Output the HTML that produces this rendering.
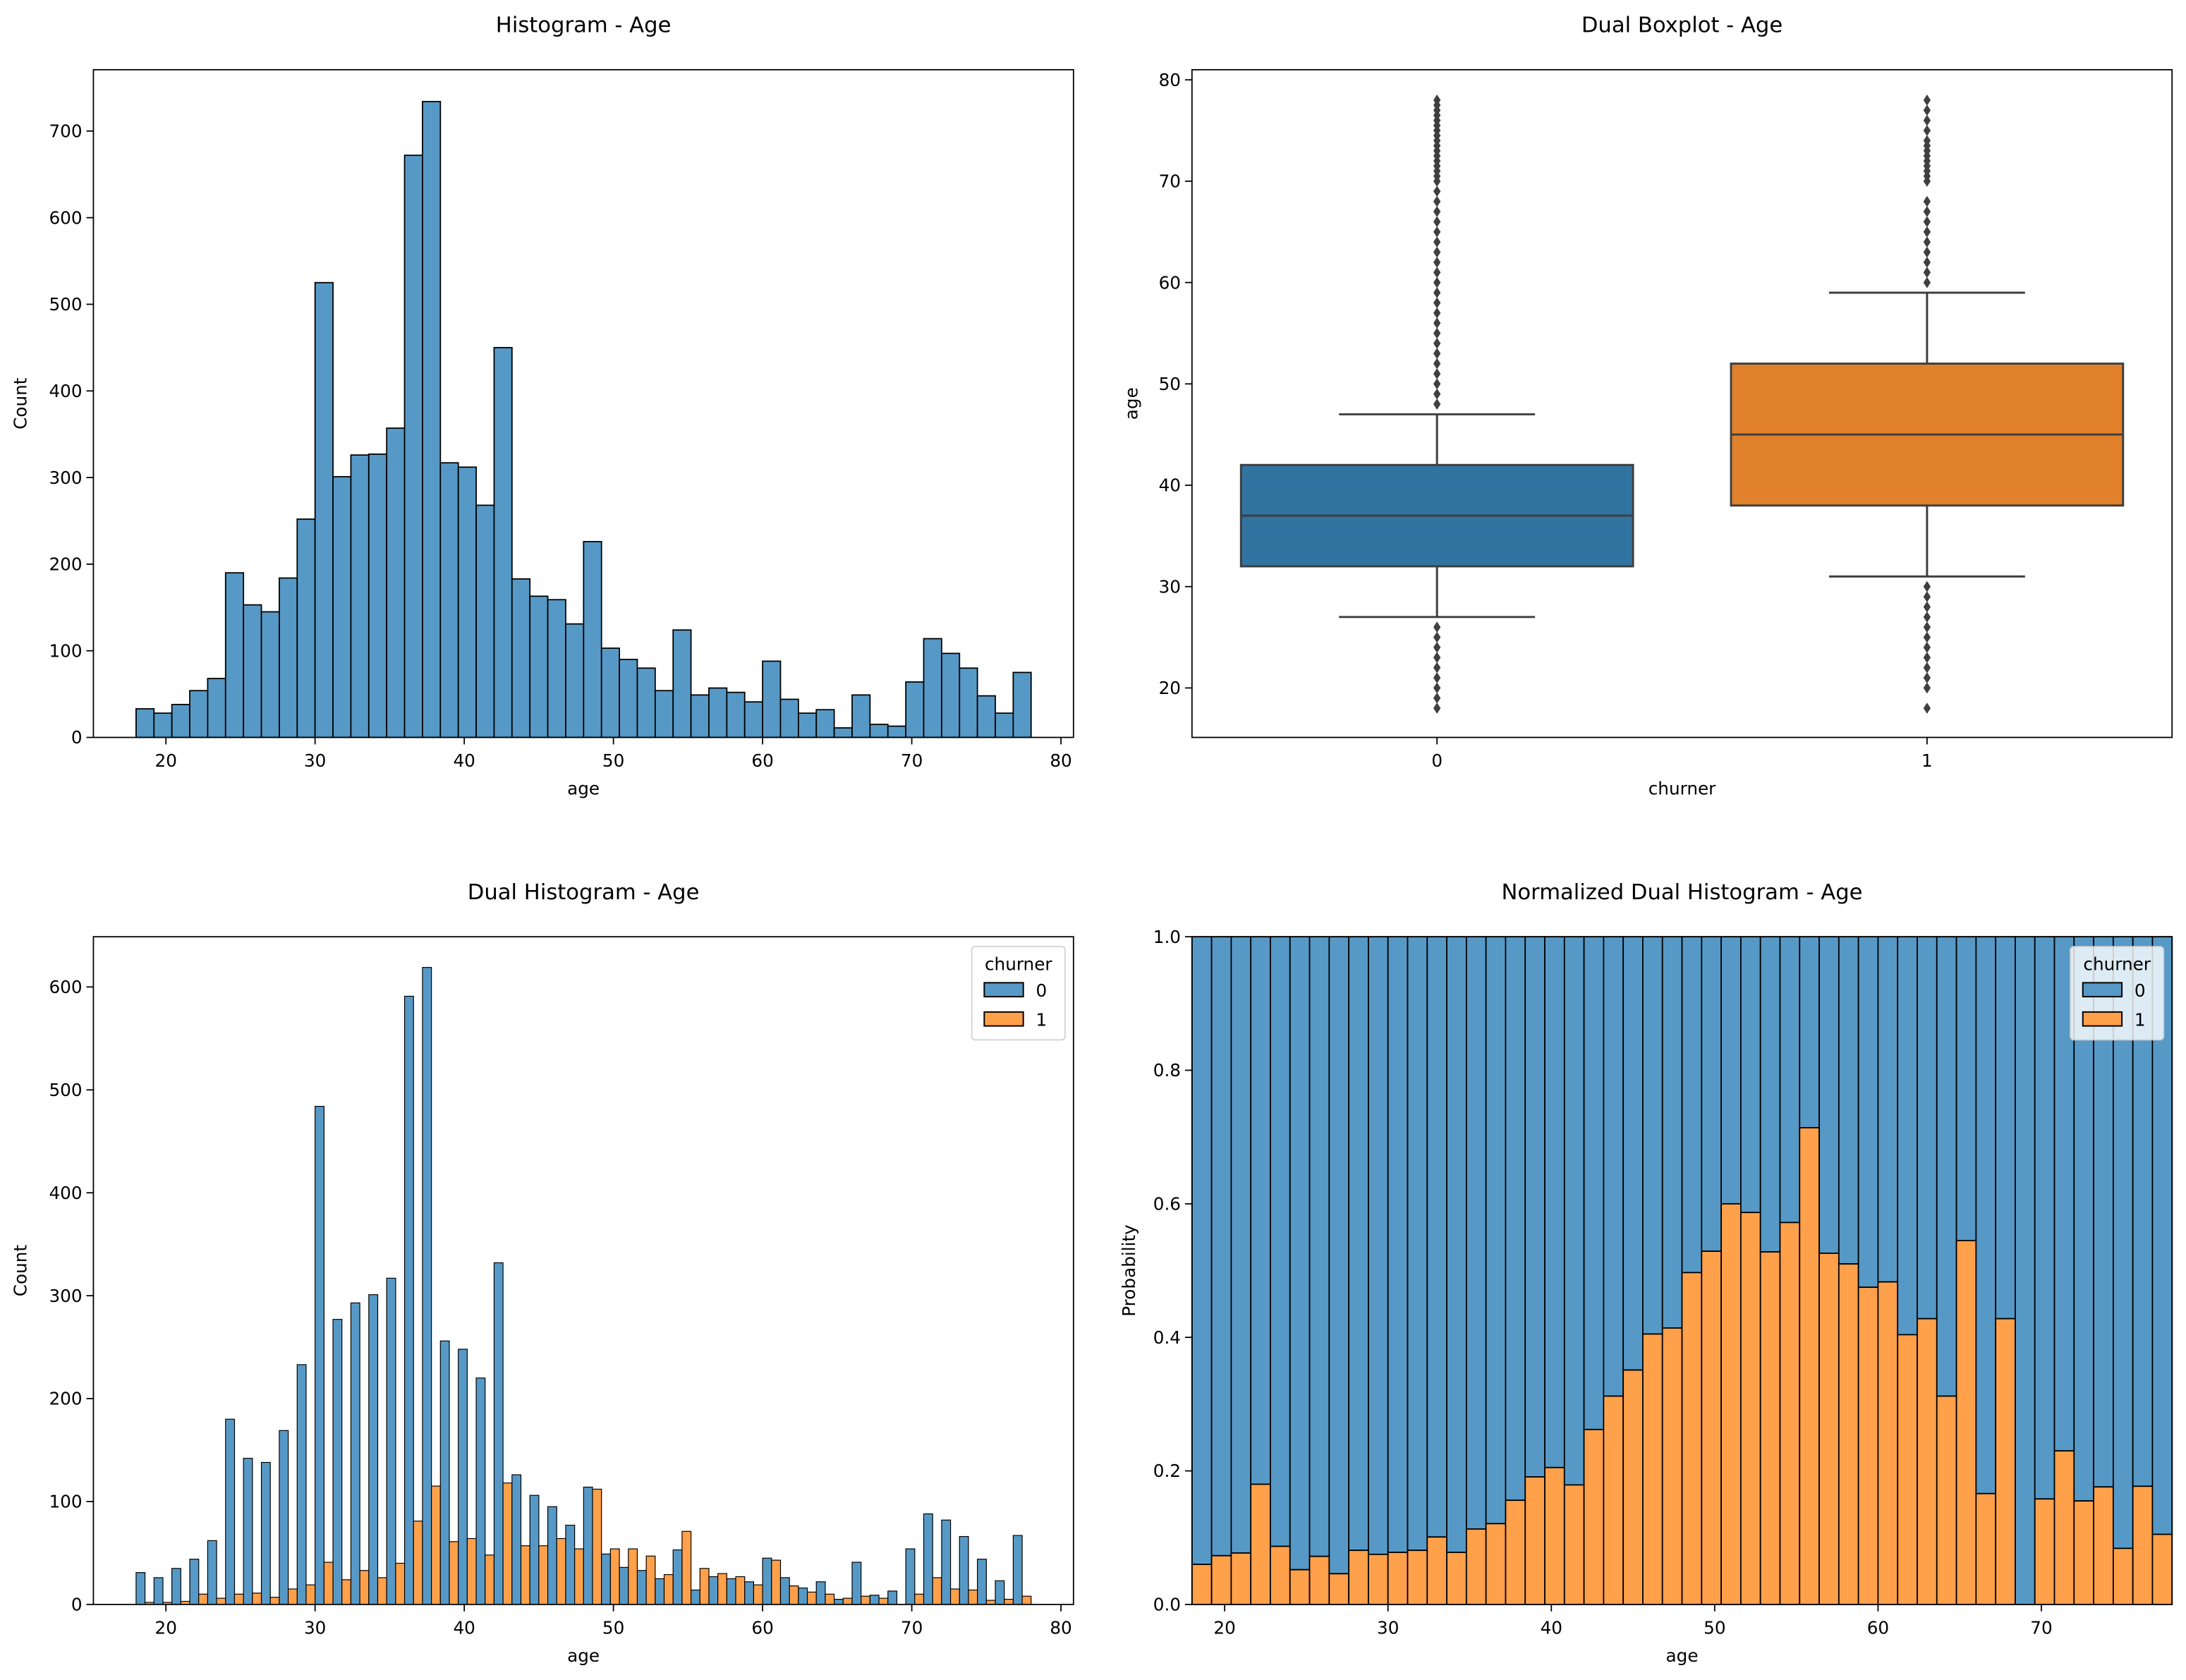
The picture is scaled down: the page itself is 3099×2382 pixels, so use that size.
<!DOCTYPE html>
<html><head><meta charset="utf-8"><style>
html,body{margin:0;padding:0;background:#fff;}
svg{display:block;font-family:"DejaVu Sans","Liberation Sans",sans-serif;}
</style></head><body>
<svg id="fig" width="3099" height="2382" viewBox="0 0 1568 1205.2" xmlns="http://www.w3.org/2000/svg"></svg>
<script>
// ---- data ----
const binStart = 18, binWidth = 1.2;
const totalCounts = [33,28,38,54,68,190,153,145,184,252,525,301,326,327,357,672,734,317,312,268,450,183,163,159,131,226,103,90,80,54,124,49,57,52,41,88,44,28,32,11,49,15,13,64,114,97,80,48,28,75];
const counts0 = [31,26,35,44,62,180,142,138,169,233,484,277,293,301,317,591,619,256,248,220,332,126,106,95,77,114,49,36,33,25,53,14,27,25,22,45,26,16,22,5,41,9,13,54,88,82,66,44,23,67];
const counts1 = [2,2,3,10,6,10,11,7,15,19,41,24,33,26,40,81,115,61,64,48,118,57,57,64,54,112,54,54,47,29,71,35,30,27,19,43,18,12,10,6,8,6,0,10,26,15,14,4,5,8];
const prob1 = [.060,.073,.077,.180,.087,.052,.072,.046,.081,.075,.078,.081,.101,.078,.113,.121,.156,.191,.205,.179,.262,.312,.351,.405,.414,.497,.529,.600,.587,.528,.572,.714,.526,.510,.475,.483,.404,.428,.312,.545,.166,.428,0,.158,.230,.155,.176,.084,.177,.105];
const boxCats = ["0","1"];
const boxQ1 = [32,38], boxMed = [37,45], boxQ3 = [42,52], boxLo = [27,31], boxHi = [47,59];
const outliers0 = [18,19,20,21,22,23,24,25,26,48,49,50,51,52,53,54,55,56,57,58,59,60,61,62,63,64,65,66,67,68,69,70,70.5,71,71.5,72,72.5,73,73.5,74,74.5,75,75.5,76,76.5,77,77.5,78];
const outliers1 = [18,20,21,22,23,24,25,26,27,28,29,30,60,61,62,63,64,65,66,67,68,70,70.5,71,71.5,72,72.5,73,73.5,74,75,76,77,78];
const histYTicks = [0,100,200,300,400,500,600,700];
const dualYTicks = [0,100,200,300,400,500,600];
const ageTicks = [20,30,40,50,60,70,80];
const ageTicksN = [20,30,40,50,60,70];
const boxYTicks = [20,30,40,50,60,70,80];
const probTicks = [0,0.2,0.4,0.6,0.8,1.0];

const svg = document.getElementById('fig');
const NS = 'http://www.w3.org/2000/svg';
function el(tag, attrs, parent, text){
  const e = document.createElementNS(NS, tag);
  for (const k in attrs) e.setAttribute(k, attrs[k]);
  if (text !== undefined) e.textContent = text;
  (parent || svg).appendChild(e);
  return e;
}
const BLUE='#5799c6', ORANGE='#ffa04b', EDGE='#000';
const TF = 12.5;

function axes(name, L, R, T, B, xmin, xmax, ymin, ymax){
  const g = el('g', {});
  
  
  return {g, L, R, T, B,
    x: v => L + (v - xmin) / (xmax - xmin) * (R - L),
    y: v => B - (v - ymin) / (ymax - ymin) * (B - T)};
}
function frame(a){
  const f = el('rect', {x:a.L, y:a.T, width:a.R-a.L, height:a.B-a.T, fill:'none', stroke:'#000', 'stroke-width':0.9}, a.g);
  
  
}
function xTicks(a, ticks, labels, fmt){
  ticks.forEach((t,i) => {
    const x = a.x(t);
    el('line', {x1:x, x2:x, y1:a.B, y2:a.B+5, stroke:'#000', 'stroke-width':0.9}, a.g);
    const tx = el('text', {x:x, y:a.B+21, 'font-size':TF, 'text-anchor':'middle'}, a.g, labels ? labels[i] : (fmt ? fmt(t) : t));
    
    
  });
}
function yTicks(a, ticks, fmt){
  ticks.forEach(t => {
    const y = a.y(t);
    el('line', {x1:a.L-5, x2:a.L, y1:y, y2:y, stroke:'#000', 'stroke-width':0.9}, a.g);
    const tx = el('text', {x:a.L-8, y:y+4.4, 'font-size':TF, 'text-anchor':'end'}, a.g, fmt ? fmt(t) : t);
    
    
  });
}
function labels(a, title, xl, yl, ylx){
  const cx = (a.L + a.R) / 2;
  const t = el('text', {x:cx, y:a.T-27, 'font-size':15.5, 'text-anchor':'middle'}, a.g, title);
  
  
  const x = el('text', {x:cx, y:a.B+41, 'font-size':TF, 'text-anchor':'middle'}, a.g, xl);
  
  
  const cy = (a.T + a.B) / 2;
  const y = el('text', {x:ylx, y:cy, 'font-size':TF, 'text-anchor':'middle', transform:`rotate(-90 ${ylx} ${cy})`}, a.g, yl);
  
  
}
function legend(a, x, y){
  const g = el('g', {}, a.g);
  
  
  el('rect', {x:x, y:y, width:67, height:67, rx:2.5, fill:'#fff', 'fill-opacity':0.8, stroke:'#ccc', 'stroke-width':0.8}, g);
  el('text', {x:x+33.5, y:y+17, 'font-size':TF, 'text-anchor':'middle'}, g, 'churner');
  [[BLUE,'0'],[ORANGE,'1']].forEach((c,i) => {
    const r = el('rect', {x:x+9, y:y+26+i*21, width:28, height:10, fill:c[0], stroke:'#000', 'stroke-width':1}, g);
    
    
    const t = el('text', {x:x+46, y:y+36+i*21, 'font-size':TF}, g, c[1]);
    
    
  });
}

// ---- 1: Histogram ----
{
  const a = axes('histogram-age', 67, 770, 50, 529, 15.14, 80.84, 0, 770.8);
  totalCounts.forEach((v,i) => {
    const x0 = a.x(binStart + i*binWidth), x1 = a.x(binStart + (i+1)*binWidth);
    const r = el('rect', {x:x0, y:a.y(v), width:x1-x0, height:a.y(0)-a.y(v), fill:BLUE, stroke:EDGE, 'stroke-width':0.9}, a.g);
    
    
  });
  frame(a); xTicks(a, ageTicks); yTicks(a, histYTicks);
  labels(a, 'Histogram - Age', 'age', 'Count', 19);
}
// ---- 2: Boxplot ----
{
  const a = axes('boxplot-age', 855, 1558, 50, 529, -0.5, 1.5, 15.12, 81.0);
  const cols = ['#3274a1', '#e1812c'];
  const hw = 0.4, ww = 0.2, LC = '#3f3f3f';
  boxCats.forEach((c,i) => {
    const cx = a.x(i);
    const g = el('g', {}, a.g);
    
    
    el('line', {x1:cx, x2:cx, y1:a.y(boxQ3[i]), y2:a.y(boxHi[i]), stroke:LC, 'stroke-width':1.5}, g);
    el('line', {x1:cx, x2:cx, y1:a.y(boxQ1[i]), y2:a.y(boxLo[i]), stroke:LC, 'stroke-width':1.5}, g);
    el('line', {x1:a.x(i-ww), x2:a.x(i+ww), y1:a.y(boxHi[i]), y2:a.y(boxHi[i]), stroke:LC, 'stroke-width':1.5}, g);
    el('line', {x1:a.x(i-ww), x2:a.x(i+ww), y1:a.y(boxLo[i]), y2:a.y(boxLo[i]), stroke:LC, 'stroke-width':1.5}, g);
    el('rect', {x:a.x(i-hw), y:a.y(boxQ3[i]), width:a.x(i+hw)-a.x(i-hw), height:a.y(boxQ1[i])-a.y(boxQ3[i]), fill:cols[i], stroke:LC, 'stroke-width':1.5}, g);
    el('line', {x1:a.x(i-hw), x2:a.x(i+hw), y1:a.y(boxMed[i]), y2:a.y(boxMed[i]), stroke:LC, 'stroke-width':1.5}, g);
    (i===0 ? outliers0 : outliers1).forEach(v => {
      const y = a.y(v);
      const d = el('path', {d:`M${cx} ${y-4}L${cx+2.6} ${y}L${cx} ${y+4}L${cx-2.6} ${y}Z`, fill:LC}, g);
      
      
    });
  });
  frame(a); xTicks(a, [0,1], boxCats); yTicks(a, boxYTicks);
  labels(a, 'Dual Boxplot - Age', 'churner', 'age', 816);
}
// ---- 3: Dual histogram ----
{
  const a = axes('dual-histogram-age', 67, 770, 672, 1151, 15.14, 80.84, 0, 648.8);
  counts0.forEach((v,i) => {
    const s = binStart + i*binWidth;
    const x0 = a.x(s), xm = a.x(s + binWidth/2), x1 = a.x(s + binWidth);
    const r = el('rect', {x:x0, y:a.y(v), width:xm-x0, height:a.y(0)-a.y(v), fill:BLUE, stroke:EDGE, 'stroke-width':0.6}, a.g);
    
    
    const w = counts1[i];
    const r2 = el('rect', {x:xm, y:a.y(w), width:x1-xm, height:a.y(0)-a.y(w), fill:ORANGE, stroke:EDGE, 'stroke-width':0.6}, a.g);
    
    
  });
  frame(a); xTicks(a, ageTicks); yTicks(a, dualYTicks);
  labels(a, 'Dual Histogram - Age', 'age', 'Count', 19);
  legend(a, 697, 679);
}
// ---- 4: Normalized ----
{
  const a = axes('normalized-histogram-age', 855, 1558, 672, 1151, 18, 78, 0, 1);
  prob1.forEach((p,i) => {
    const x0 = a.x(binStart + i*binWidth), x1 = a.x(binStart + (i+1)*binWidth);
    const r = el('rect', {x:x0, y:a.y(1), width:x1-x0, height:a.y(p)-a.y(1), fill:BLUE, stroke:EDGE, 'stroke-width':0.9}, a.g);
    
    
    const r2 = el('rect', {x:x0, y:a.y(p), width:x1-x0, height:a.y(0)-a.y(p), fill:ORANGE, stroke:EDGE, 'stroke-width':0.9}, a.g);
    
    
  });
  frame(a); xTicks(a, ageTicksN); yTicks(a, probTicks, t => t.toFixed(1));
  labels(a, 'Normalized Dual Histogram - Age', 'age', 'Probability', 814);
  legend(a, 1485, 679);
}
</script>
</body></html>
